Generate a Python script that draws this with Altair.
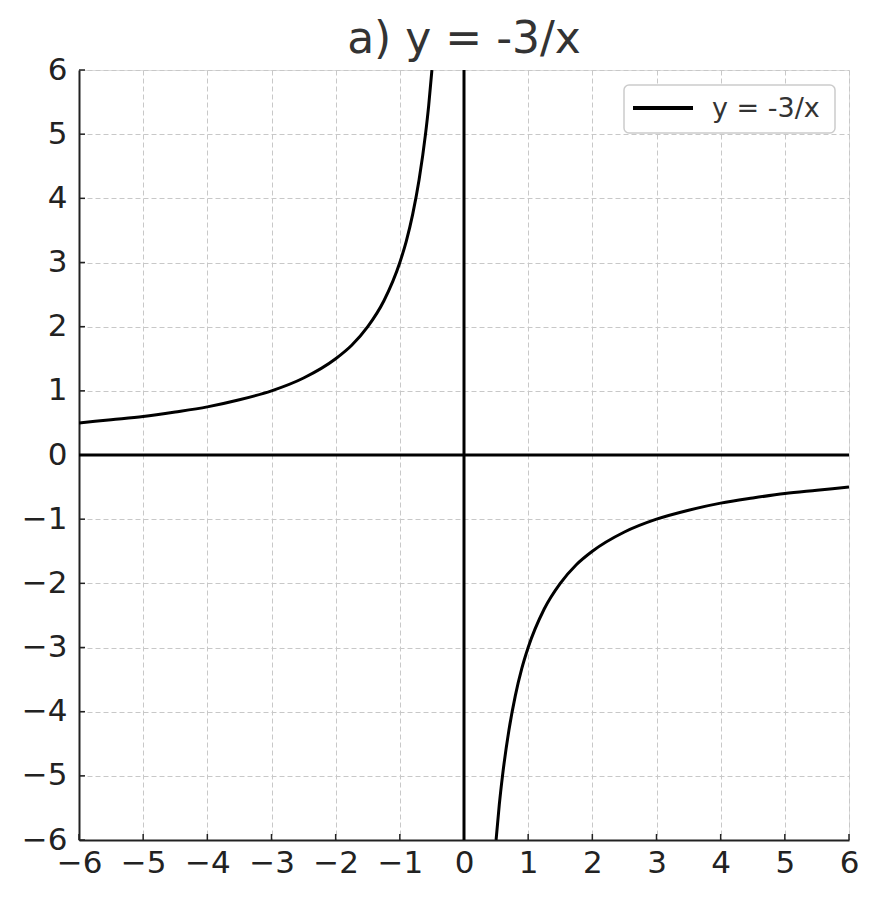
import altair as alt
import pandas as pd

# Points (upper-left branch and lower-right branch)
left_x = [-6, -5.5, -5, -4.5, -4, -3.5, -3, -2.5, -2, -1.75, -1.5, -1.25, -1, -0.9, -0.8, -0.7, -0.6, -0.55, -0.5]
left_y = [0.5, 0.55, 0.6, 0.67, 0.75, 0.86, 1.0, 1.2, 1.5, 1.71, 2.0, 2.4, 3.0, 3.33, 3.75, 4.29, 5.0, 5.45, 6.0]
right_x = [0.5, 0.55, 0.6, 0.7, 0.8, 0.9, 1, 1.25, 1.5, 1.75, 2, 2.5, 3, 3.5, 4, 4.5, 5, 5.5, 6]
right_y = [-6.0, -5.45, -5.0, -4.29, -3.75, -3.33, -3.0, -2.4, -2.0, -1.71, -1.5, -1.2, -1.0, -0.86, -0.75, -0.67, -0.6, -0.55, -0.5]
ticks = [-6, -5, -4, -3, -2, -1, 0, 1, 2, 3, 4, 5, 6]
series_name = "y = -3/x"
title_text = "a) y = -3/x"

curve = pd.DataFrame({
    "x": left_x + right_x,
    "y": left_y + right_y,
    "branch": ["left"] * len(left_x) + ["right"] * len(right_x),
})
tick_df = pd.DataFrame({"t": ticks})
zero_df = pd.DataFrame({"z": [0]})
legend_df = pd.DataFrame({"label": [series_name]})

W = 770
H = 770
xs = alt.Scale(domain=[-6, 6], nice=False, zero=False)
ys = alt.Scale(domain=[-6, 6], nice=False, zero=False)

axis_common = dict(
    values=ticks,
    format="d",
    grid=True,
    gridDash=[5, 3],
    gridColor="#c8c8c8",
    gridWidth=1,
    ticks=False,
    domain=True,
    domainColor="#222222",
    domainWidth=2,
    labelFont="DejaVu Sans",
    labelFontSize=31,
    labelColor="#222222",
    labelOverlap=False,
    labelFlush=False,
    labelBound=False,
    title=None,
)

base = alt.Chart(curve).encode(
    x=alt.X("x:Q", scale=xs, axis=alt.Axis(labelPadding=8, **axis_common)),
    y=alt.Y("y:Q", scale=ys, axis=alt.Axis(labelPadding=12, **axis_common)),
)

lines = base.mark_line(strokeWidth=3, interpolate="monotone", clip=True, color="black").encode(
    detail="branch:N",
)

vline = alt.Chart(zero_df).mark_rule(color="black", strokeWidth=3).encode(
    x=alt.X("z:Q", scale=xs)
)
hline = alt.Chart(zero_df).mark_rule(color="black", strokeWidth=3).encode(
    y=alt.Y("z:Q", scale=ys)
)

xticks = alt.Chart(tick_df).mark_rule(color="#222222", strokeWidth=1.5).encode(
    x=alt.X("t:Q", scale=xs),
    y=alt.value(H),
    y2=alt.value(H - 6),
)
yticks = alt.Chart(tick_df).mark_rule(color="#222222", strokeWidth=1.5).encode(
    y=alt.Y("t:Q", scale=ys),
    x=alt.value(0),
    x2=alt.value(6),
)

# Legend drawn as a small box in the top-right corner
leg_box = alt.Chart(legend_df).mark_rect(
    fill="white", stroke="#cccccc", strokeWidth=1.5, cornerRadius=5
).encode(x=alt.value(545), x2=alt.value(756), y=alt.value(15), y2=alt.value(63))
leg_line = alt.Chart(legend_df).mark_rule(color="black", strokeWidth=4).encode(
    x=alt.value(554), x2=alt.value(614), y=alt.value(38)
)
leg_text = alt.Chart(legend_df).mark_text(
    align="left", baseline="middle", font="DejaVu Sans", fontSize=27, color="#333333"
).encode(text="label:N", x=alt.value(633), y=alt.value(39))

chart = (
    alt.layer(xticks, yticks, vline, hline, lines, leg_box, leg_line, leg_text)
    .properties(
        width=W,
        height=H,
        title=alt.TitleParams(
            title_text,
            font="DejaVu Sans",
            fontSize=44,
            fontWeight="normal",
            color="#333333",
            anchor="middle",
            offset=-8,
        ),
        padding={"left": 71, "top": 62, "right": 22, "bottom": 50},
        autosize=alt.AutoSizeParams(type="none"),
    )
    .configure_view(stroke=None)
    .configure(background="white")
)

chart.save("out.html", embed_options={"renderer": "svg", "actions": False})
